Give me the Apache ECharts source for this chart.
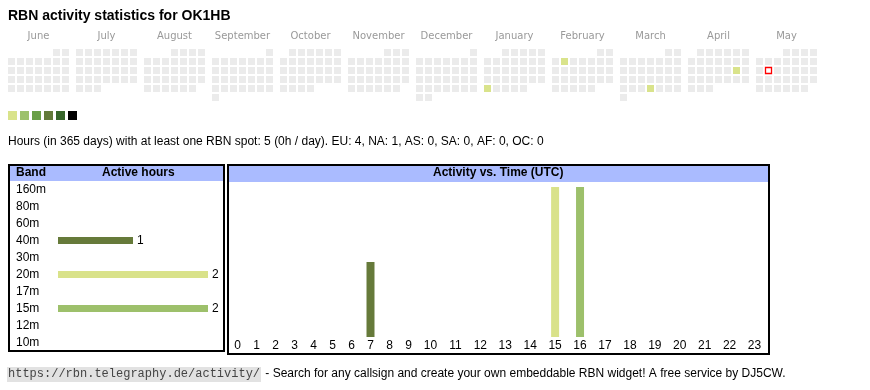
<!DOCTYPE html>
<html><head><meta charset="utf-8">
<script src="https://cdn.jsdelivr.net/npm/echarts@6/dist/echarts.min.js"></script>
<style>html,body{margin:0;padding:0;background:#fff}#c{width:870px;height:390px}</style>
</head><body><div id="c"></div>
<script>
// ---------- data ----------
const months = ['2024-06','2024-07','2024-08','2024-09','2024-10','2024-11','2024-12','2025-01','2025-02','2025-03','2025-04','2025-05'];
const monthNames = ['June','July','August','September','October','November','December','January','February','March','April','May'];
const activeDays = ['2025-01-27','2025-02-04','2025-03-27','2025-04-19'];
const activeDayHours = [1,1,2,1];
const today = '2025-05-13';
const levelPieces = [[1,2],[3,4],[5,6],[7,8],[9,10],[11,null]];

const bands = ['160m','80m','60m','40m','30m','20m','17m','15m','12m','10m'];
const bandHours = [0,0,0,1,0,2,0,2,0,0];

const hours = ['0','1','2','3','4','5','6','7','8','9','10','11','12','13','14','15','16','17','18','19','20','21','22','23'];
const hourly40m = [0,0,0,0,0,0,0,1,0,0,0,0,0,0,0,0,0,0,0,0,0,0,0,0];
const hourly20m = [0,0,0,0,0,0,0,0,0,0,0,0,0,0,0,2,0,0,0,0,0,0,0,0];
const hourly15m = [0,0,0,0,0,0,0,0,0,0,0,0,0,0,0,0,2,0,0,0,0,0,0,0];

// ---------- style ----------
const levelColors = ['#d9e38b','#9dc16b','#6a9f47','#637a3a','#37652a','#000000'];
const bandColors = ['#3a5a9a','#8a5ab0','#c080c0','#667a3a','#b05050','#d9e28a','#e0a040','#9dc06b','#40a0a0','#a04040'];
const SANS = '"Liberation Sans", Arial, sans-serif';
const EMPTY = '#ebebeb';

const chart = echarts.init(document.getElementById('c'), null, {renderer: 'canvas'});

function daysOfMonth(ym) {
  const [y, m] = ym.split('-').map(Number);
  const n = new Date(Date.UTC(y, m, 0)).getUTCDate();
  const out = [];
  for (let d = 1; d <= n; d++) out.push(ym + '-' + String(d).padStart(2, '0'));
  return out;
}
const dayValue = {};
activeDays.forEach((d, i) => { dayValue[d] = activeDayHours[i]; });

const calendars = months.map((ym, i) => ({
  orient: 'vertical', range: ym, left: 7 + 68 * i, top: 48, cellSize: [9, 9],
  splitLine: {show: false},
  itemStyle: {color: 'transparent', borderWidth: 0},
  dayLabel: {show: false, firstDay: 1}, monthLabel: {show: false}, yearLabel: {show: false}
}));

const series = [];
months.forEach((ym, i) => {
  series.push({
    type: 'heatmap', coordinateSystem: 'calendar', calendarIndex: i, silent: true,
    itemStyle: {borderColor: '#fff', borderWidth: 2},
    emphasis: {disabled: true},
    data: daysOfMonth(ym).map(d => [d, dayValue[d] || 0])
  });
});
const heatIdx = months.map((m, i) => i);
series.push({
  type: 'scatter', coordinateSystem: 'calendar', calendarIndex: months.indexOf(today.slice(0, 7)),
  symbol: 'rect', symbolSize: 6, silent: true, z: 10,
  itemStyle: {color: '#fff', borderColor: '#ff0000', borderWidth: 1.3, opacity: 1},
  emphasis: {disabled: true},
  data: [[today, 1]]
});
// band bars
series.push({
  type: 'bar', xAxisIndex: 0, yAxisIndex: 0, barWidth: 7, silent: true,
  data: bandHours.map((v, i) => ({value: v, itemStyle: {color: bandColors[i]}})),
  label: {show: true, position: 'right', distance: 4, color: '#000', fontSize: 12, fontFamily: SANS,
    formatter: p => p.value > 0 ? String(p.value) : ''}
});
// hourly stacked bars by band
[['40m', hourly40m], ['20m', hourly20m], ['15m', hourly15m]].forEach(([b, arr]) => {
  const col = bandColors[bands.indexOf(b)];
  series.push({type: 'bar', name: b, xAxisIndex: 1, yAxisIndex: 1, stack: 'a', barWidth: 8, silent: true,
    itemStyle: {color: col}, data: arr.slice(0, 10)});
  series.push({type: 'bar', name: b, xAxisIndex: 2, yAxisIndex: 2, stack: 'b', barWidth: 8, silent: true,
    itemStyle: {color: col}, data: arr.slice(10)});
});

const hourLabel = {fontSize: 12, color: '#000', fontFamily: SANS, margin: 3, interval: 0};
const noLine = {show: false};

const graphic = [
  {type: 'text', left: 8, top: 9, style: {text: 'RBN activity statistics for OK1HB', font: 'bold 14px ' + SANS, fill: '#000'}},
  {type: 'text', left: 8, top: 136, style: {text: 'Hours (in 365 days) with at least one RBN spot: 5 (0h / day). EU: 4, NA: 1, AS: 0, SA: 0, AF: 0, OC: 0', font: '12px ' + SANS, fill: '#000'}},
  // left box
  {type: 'rect', shape: {x: 10, y: 166, width: 213, height: 15}, style: {fill: '#aabbff'}},
  {type: 'rect', shape: {x: 9, y: 165, width: 215, height: 186}, style: {fill: 'none', stroke: '#000', lineWidth: 2}},
  {type: 'text', left: 16, top: 167, style: {text: 'Band', font: 'bold 12px ' + SANS, fill: '#000'}},
  {type: 'text', left: 102, top: 167, style: {text: 'Active hours', font: 'bold 12px ' + SANS, fill: '#000'}},
  // right box
  {type: 'rect', shape: {x: 229, y: 166, width: 539, height: 16}, style: {fill: '#aabbff'}},
  {type: 'rect', shape: {x: 228, y: 165, width: 541, height: 189}, style: {fill: 'none', stroke: '#000', lineWidth: 2}},
  {type: 'text', left: 433, top: 167, style: {text: 'Activity vs. Time (UTC)', font: 'bold 12px ' + SANS, fill: '#000'}},
  // footer
  {type: 'rect', shape: {x: 7, y: 367, width: 254, height: 15}, style: {fill: '#e2e2e2'}},
  {type: 'text', left: 8, top: 368, style: {text: 'https://rbn.telegraphy.de/activity/', font: '12px "Liberation Mono", monospace', fill: '#444'}},
  {type: 'text', left: 262, top: 368, style: {text: ' - Search for any callsign and create your own embeddable RBN widget! A free service by DJ5CW.', font: '12px ' + SANS, fill: '#000'}}
];
monthNames.forEach((n, i) => {
  graphic.push({type: 'text', x: 38.5 + 68 * i, y: 36,
    style: {text: n, font: '10px "DejaVu Sans", sans-serif', fill: '#999', textAlign: 'center', textVerticalAlign: 'middle'}});
});

chart.setOption({
  animation: false,
  calendar: calendars,
  visualMap: {
    type: 'piecewise', seriesIndex: heatIdx, orient: 'horizontal', left: 8, top: 111,
    itemWidth: 9, itemHeight: 9, itemGap: 3, itemSymbol: 'rect', showLabel: false, padding: 0,
    selectedMode: false,
    pieces: levelPieces.map((p, i) => p[1] == null ? {min: p[0], color: levelColors[i]} : {min: p[0], max: p[1], color: levelColors[i]}),
    outOfRange: {color: EMPTY}
  },
  grid: [
    {left: 58, top: 181, width: 150, height: 170},
    {left: 228, top: 187, width: 190, height: 150},
    {left: 418, top: 187, width: 349, height: 150}
  ],
  xAxis: [
    {type: 'value', gridIndex: 0, min: 0, max: 2, show: false},
    {type: 'category', gridIndex: 1, data: hours.slice(0, 10), axisLine: noLine, axisTick: noLine, axisLabel: hourLabel},
    {type: 'category', gridIndex: 2, data: hours.slice(10), axisLine: noLine, axisTick: noLine, axisLabel: hourLabel}
  ],
  yAxis: [
    {type: 'category', gridIndex: 0, data: bands, inverse: true, axisLine: noLine, axisTick: noLine,
      axisLabel: {align: 'left', margin: 42, fontSize: 12, color: '#000', fontFamily: SANS}},
    {type: 'value', gridIndex: 1, min: 0, max: 2, show: false, splitLine: noLine},
    {type: 'value', gridIndex: 2, min: 0, max: 2, show: false, splitLine: noLine}
  ],
  graphic: graphic,
  series: series
});
</script></body></html>
